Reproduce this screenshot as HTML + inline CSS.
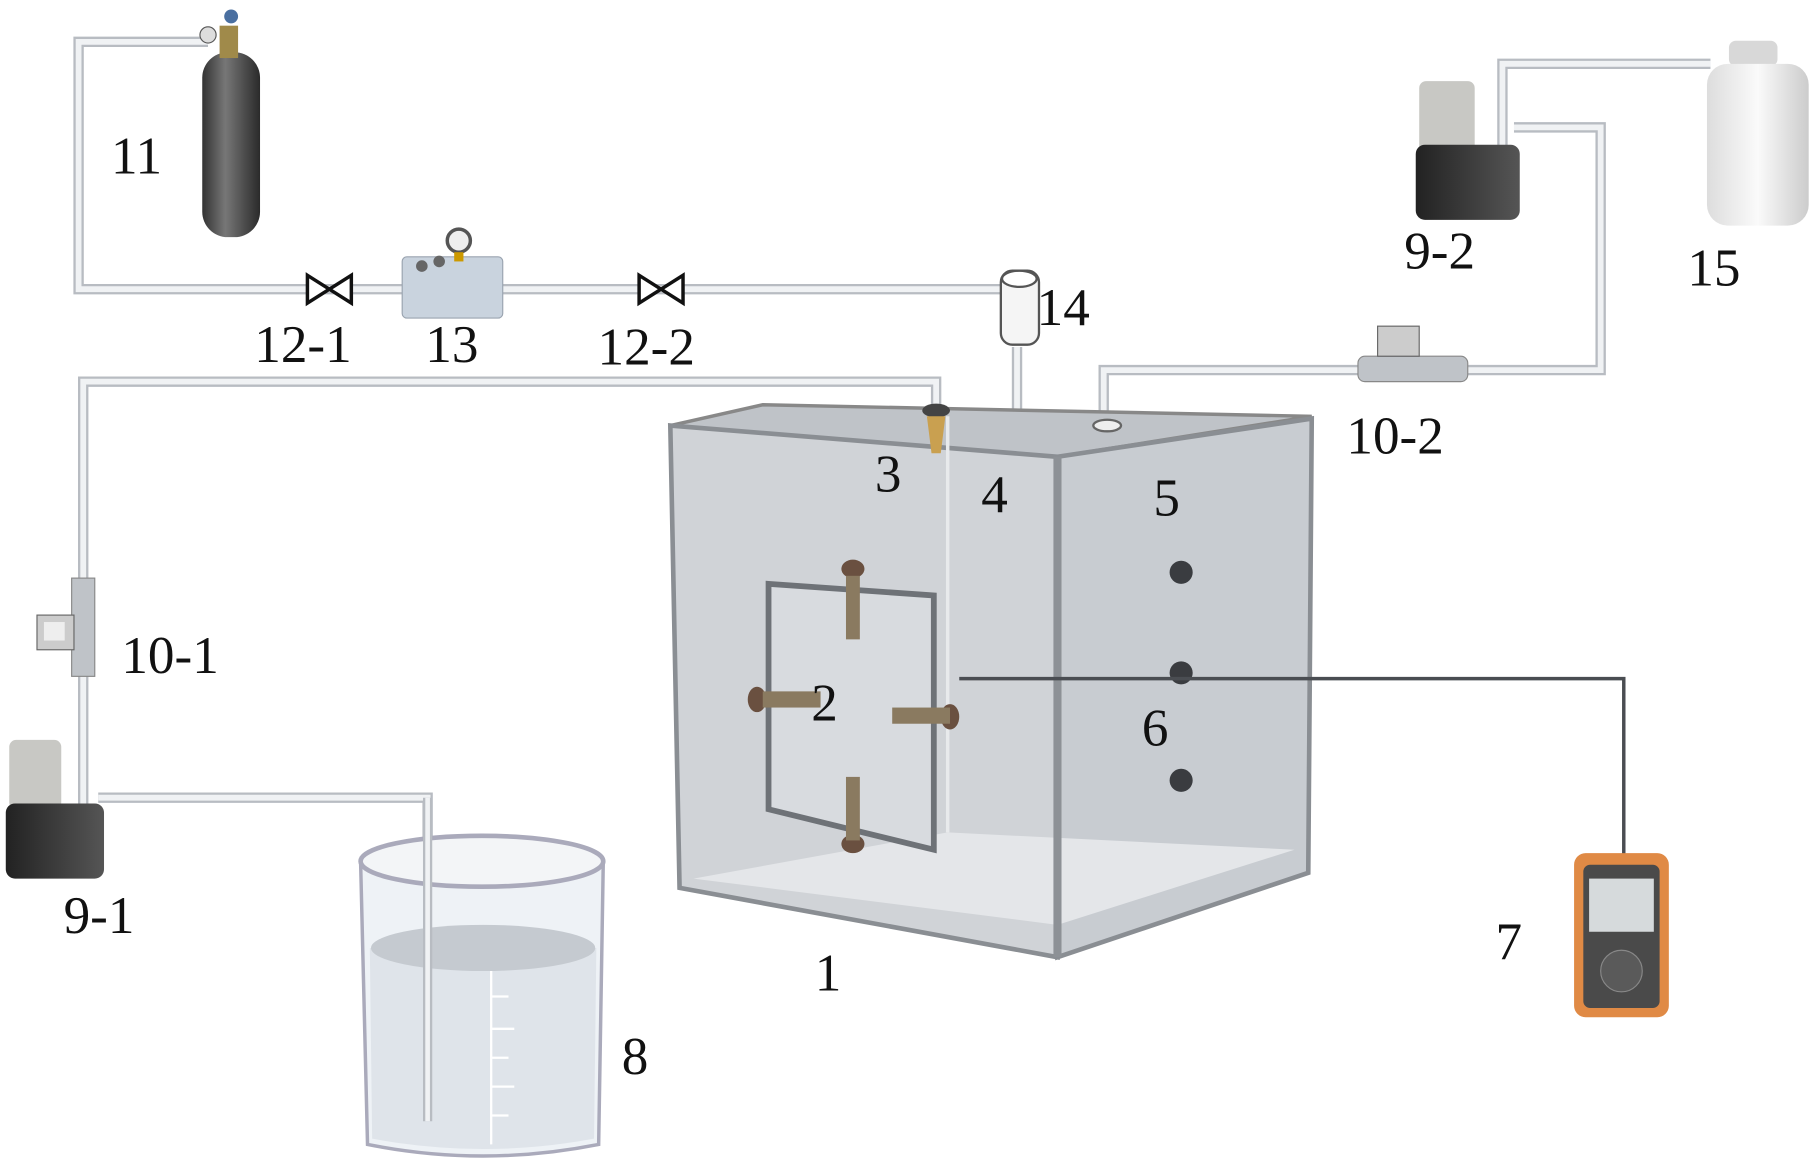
<!DOCTYPE html>
<html><head><meta charset="utf-8"><style>
html,body{margin:0;padding:0;background:#fff}
svg{display:block}
text{font-family:"Liberation Serif",serif;font-size:46px;fill:#111}
</style></head><body>
<svg width="1811" height="1162" viewBox="0 0 1567 1005" xmlns="http://www.w3.org/2000/svg">
<defs>
<linearGradient id="cyl" x1="0" x2="1"><stop offset="0" stop-color="#333"/><stop offset=".4" stop-color="#777"/><stop offset="1" stop-color="#2a2a2a"/></linearGradient>
<linearGradient id="bot" x1="0" x2="1"><stop offset="0" stop-color="#ddd"/><stop offset=".5" stop-color="#fafafa"/><stop offset="1" stop-color="#ccc"/></linearGradient>
<linearGradient id="pump" x1="0" x2="1"><stop offset="0" stop-color="#222"/><stop offset="1" stop-color="#555"/></linearGradient>
</defs>
<g fill="none" stroke-linejoin="miter">
<g stroke="#b8bcc2" stroke-width="9">
<polyline points="180,36 68,36 68,250 870,250"/>
<polyline points="810,350 810,330 72,330 72,700"/>
<polyline points="85,690 370,690 370,970"/>
<polyline points="955,385 955,320 1385,320 1385,110 1310,110"/>
<polyline points="1300,130 1300,55 1480,55"/>
<polyline points="880,300 880,400"/>
</g>
<g stroke="#f0f2f4" stroke-width="5">
<polyline points="180,36 68,36 68,250 870,250"/>
<polyline points="810,350 810,330 72,330 72,700"/>
<polyline points="85,690 370,690 370,970"/>
<polyline points="955,385 955,320 1385,320 1385,110 1310,110"/>
<polyline points="1300,130 1300,55 1480,55"/>
<polyline points="880,300 880,400"/>
</g>
</g>
<!-- gas cylinder -->
<rect x="175" y="45" width="50" height="160" rx="22" fill="url(#cyl)"/>
<rect x="190" y="22" width="16" height="28" fill="#a08a4a"/>
<circle cx="180" cy="30" r="7" fill="#ddd" stroke="#555"/><circle cx="200" cy="14" r="6" fill="#4a6fa0"/>
<!-- valves -->
<g fill="#fff" stroke="#111" stroke-width="3"><path d="M266,238 L304,262 L304,238 L266,262Z"/><path d="M553,238 L591,262 L591,238 L553,262Z"/></g>
<!-- box 13 -->
<rect x="348" y="222" width="87" height="53" rx="4" fill="#c9d3de" stroke="#9aa4b0"/>
<circle cx="397" cy="208" r="10" fill="#eee" stroke="#555" stroke-width="3"/><rect x="393" y="218" width="8" height="8" fill="#c90"/>
<circle cx="365" cy="230" r="5" fill="#666"/><circle cx="380" cy="226" r="5" fill="#666"/>
<!-- 14 -->
<rect x="866" y="234" width="33" height="64" rx="10" fill="#f5f5f5" stroke="#555" stroke-width="2"/>
<ellipse cx="882" cy="241" rx="15" ry="7" fill="#fff" stroke="#555" stroke-width="2"/>
<rect x="872" y="365" width="18" height="30" fill="#ddd" stroke="#777"/>
<!-- box 1 -->
<polygon points="580,368 660,350 1135,360 915,395" fill="#bfc3c8" stroke="#888" stroke-width="3"/>
<polygon points="580,368 915,395 915,828 588,768" fill="#d0d3d7" stroke="#8a8e93" stroke-width="4"/>
<polygon points="915,395 1135,362 1132,755 915,828" fill="#c8ccd1" stroke="#8a8e93" stroke-width="4"/>
<polygon points="600,760 820,720 1120,735 915,800" fill="#e4e6e9"/>
<line x1="820" y1="360" x2="820" y2="720" stroke="#e8eaec" stroke-width="3"/>
<line x1="915" y1="395" x2="915" y2="828" stroke="#8d9196" stroke-width="7"/>
<polygon points="665,505 808,515 808,735 665,700" fill="#d8dbdf" stroke="#6e7277" stroke-width="5"/>
<g fill="#6a5040"><ellipse cx="738" cy="492" rx="10" ry="8"/><rect x="732" y="498" width="12" height="55" fill="#8a7a60"/>
<ellipse cx="738" cy="730" rx="10" ry="8"/><rect x="732" y="672" width="12" height="55" fill="#8a7a60"/>
<ellipse cx="655" cy="605" rx="8" ry="11"/><rect x="660" y="598" width="50" height="14" fill="#8a7a60"/>
<ellipse cx="822" cy="620" rx="8" ry="11"/><rect x="772" y="612" width="50" height="14" fill="#8a7a60"/></g>
<ellipse cx="810" cy="355" rx="12" ry="6" fill="#444"/><path d="M802,360 L818,360 L814,392 L806,392Z" fill="#c9a050"/>
<ellipse cx="958" cy="368" rx="12" ry="5" fill="#eee" stroke="#666" stroke-width="2"/>
<g fill="#3a3c40"><circle cx="1022" cy="495" r="10"/><circle cx="1022" cy="582" r="10"/><circle cx="1022" cy="675" r="10"/></g>
<polyline points="830,587 1405,587 1405,740" fill="none" stroke="#4a4d52" stroke-width="3"/>
<!-- meter 7 -->
<rect x="1362" y="738" width="82" height="142" rx="10" fill="#e08a45"/>
<rect x="1370" y="748" width="66" height="124" rx="6" fill="#4a4a4a"/>
<rect x="1375" y="760" width="56" height="46" fill="#d6dadc"/>
<circle cx="1403" cy="840" r="18" fill="#5a5a5a" stroke="#888"/>
<!-- flowmeters -->
<rect x="62" y="500" width="20" height="85" fill="#bfc3c8" stroke="#888"/>
<rect x="32" y="532" width="32" height="30" fill="#ccc" stroke="#666"/><rect x="38" y="538" width="18" height="16" fill="#eee"/>
<rect x="1175" y="308" width="95" height="22" rx="6" fill="#bfc3c8" stroke="#888"/>
<rect x="1192" y="282" width="36" height="26" fill="#ccc" stroke="#666"/>
<!-- pumps -->
<rect x="8" y="640" width="45" height="60" rx="6" fill="#c8c8c4"/>
<rect x="5" y="695" width="85" height="65" rx="8" fill="url(#pump)"/>
<rect x="1228" y="70" width="48" height="65" rx="6" fill="#c8c8c4"/>
<rect x="1225" y="125" width="90" height="65" rx="8" fill="url(#pump)"/>
<!-- bottle 15 -->
<rect x="1496" y="35" width="42" height="22" rx="6" fill="#d8d8d8"/>
<rect x="1477" y="55" width="88" height="140" rx="18" fill="url(#bot)"/>
<!-- beaker 8 -->
<path d="M312,745 L318,990 Q418,1010 518,990 L522,745" fill="#eef2f6" stroke="#aab" stroke-width="3"/>
<path d="M320,820 L322,985 Q418,1003 514,985 L516,820Z" fill="#dfe4ea"/>
<ellipse cx="418" cy="820" rx="97" ry="20" fill="#c5cad0"/>
<ellipse cx="417" cy="745" rx="105" ry="22" fill="#f3f5f7" stroke="#aab" stroke-width="4"/>
<line x1="370" y1="690" x2="370" y2="970" stroke="#b8bcc2" stroke-width="8"/><line x1="370" y1="690" x2="370" y2="970" stroke="#f0f2f4" stroke-width="4"/>
<g stroke="#fff" stroke-width="2"><line x1="425" y1="840" x2="425" y2="990"/><line x1="425" y1="862" x2="440" y2="862"/><line x1="425" y1="890" x2="445" y2="890"/><line x1="425" y1="915" x2="440" y2="915"/><line x1="425" y1="940" x2="445" y2="940"/><line x1="425" y1="965" x2="440" y2="965"/></g>
<!-- labels -->
<text x="96" y="150">11</text>
<text x="220" y="313">12-1</text>
<text x="368" y="313">13</text>
<text x="517" y="315">12-2</text>
<text x="897" y="281">14</text>
<text x="1215" y="232">9-2</text>
<text x="1460" y="247">15</text>
<text x="1165" y="392">10-2</text>
<text x="757" y="425">3</text>
<text x="849" y="443">4</text>
<text x="998" y="446">5</text>
<text x="105" y="582">10-1</text>
<text x="702" y="623">2</text>
<text x="988" y="645">6</text>
<text x="55" y="807">9-1</text>
<text x="1294" y="830">7</text>
<text x="705" y="857">1</text>
<text x="538" y="929">8</text>
</svg>
</body></html>
